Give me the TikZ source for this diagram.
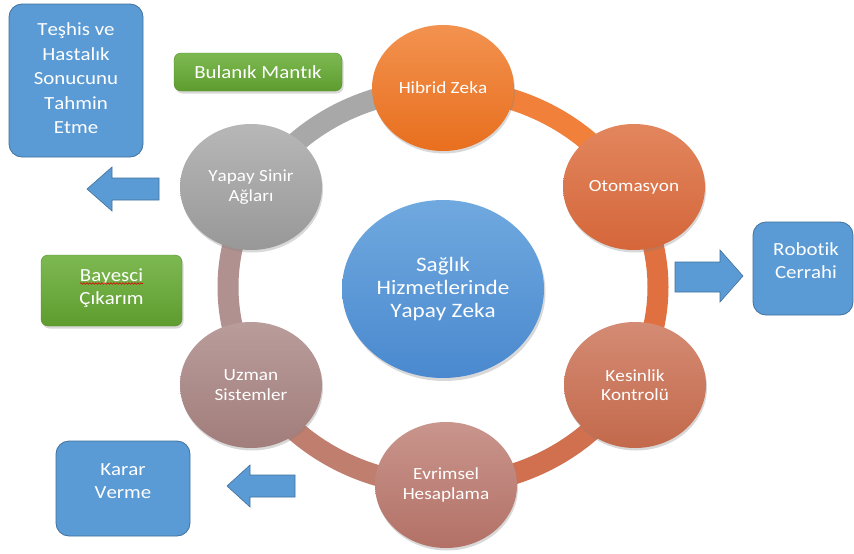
\documentclass[tikz,border=0pt]{standalone}
\usepackage{fontspec}
\setmainfont{Carlito}[FakeStretch=1.13, RawFeature={-liga;-clig;-calt;-kern}]
\usetikzlibrary{shapes.geometric,shadows,decorations.pathmorphing}
\definecolor{boxblue}{HTML}{5B9BD5}
\definecolor{boxedge}{HTML}{41719C}
\definecolor{greentop}{HTML}{7DB951}
\definecolor{greenbot}{HTML}{5E9C2F}
\definecolor{hzTop}{HTML}{F2924F}
\definecolor{hzBot}{HTML}{E86F1E}
\definecolor{otTop}{HTML}{E2865E}
\definecolor{otBot}{HTML}{D5663A}
\definecolor{keTop}{HTML}{D48B74}
\definecolor{keBot}{HTML}{C3694B}
\definecolor{evTop}{HTML}{C9958D}
\definecolor{evBot}{HTML}{B37166}
\definecolor{uzTop}{HTML}{B99D9B}
\definecolor{uzBot}{HTML}{A17D7B}
\definecolor{ysTop}{HTML}{B7B7B7}
\definecolor{ysBot}{HTML}{989898}
\definecolor{ceTop}{HTML}{70A9DF}
\definecolor{ceBot}{HTML}{4A89CF}
\definecolor{ringA}{HTML}{F0803A}
\definecolor{ringB}{HTML}{E07040}
\definecolor{ringC}{HTML}{D0704F}
\definecolor{ringD}{HTML}{C07E6E}
\definecolor{ringE}{HTML}{B09190}
\definecolor{ringF}{HTML}{A8A8A8}
\begin{document}
\begin{tikzpicture}[x=1pt,y=-1pt,
  sat/.style={ellipse, minimum width=142pt, minimum height=126pt, inner sep=0pt,
    text=white, font=\fontsize{17}{19.5}\selectfont, align=center,
    drop shadow={opacity=0.3, shadow xshift=1pt, shadow yshift=-2.5pt}},
  ringseg/.style={line width=21pt},
  bluebox/.style={rectangle, rounded corners=13pt, fill=boxblue, draw=boxedge, line width=0.8pt, inner sep=0pt},
  greenbox/.style={rectangle, rounded corners=7pt, top color=greentop, bottom color=greenbot,
    draw=greenbot!90!black, line width=0.4pt, inner sep=0pt, text=white,
    font=\fontsize{18.5}{23.5}\selectfont, align=center,
    drop shadow={opacity=0.3, shadow xshift=1.5pt, shadow yshift=-2.5pt}},
  boxtext/.style={text=white, font=\fontsize{18.5}{24.5}\selectfont, align=center, inner sep=0pt},
  blockarrow/.style={fill=boxblue, draw=boxedge, line width=0.6pt, line join=miter}
]
\useasboundingbox (0,0) rectangle (854,554);
\fill[white] (0,0) rectangle (854,554);

% ring segments
\draw[ringseg, ringA] (443,287) ++(-90:215 and 198) arc[start angle=-90, end angle=-30, x radius=215, y radius=198];
\draw[ringseg, ringB] (443,287) ++(-30:215 and 198) arc[start angle=-30, end angle=30, x radius=215, y radius=198];
\draw[ringseg, ringC] (443,287) ++(30:215 and 198) arc[start angle=30, end angle=90, x radius=215, y radius=198];
\draw[ringseg, ringD] (443,287) ++(90:215 and 198) arc[start angle=90, end angle=150, x radius=215, y radius=198];
\draw[ringseg, ringE] (443,287) ++(150:215 and 198) arc[start angle=150, end angle=210, x radius=215, y radius=198];
\draw[ringseg, ringF] (443,287) ++(210:215 and 198) arc[start angle=210, end angle=270, x radius=215, y radius=198];

% center
\node[ellipse, minimum width=202pt, minimum height=178pt, inner sep=0pt,
  top color=ceTop, bottom color=ceBot, text=white, align=center,
  font=\fontsize{20.5}{23}\selectfont,
  drop shadow={opacity=0.3, shadow xshift=1.5pt, shadow yshift=-3pt}] (center) at (443,289)
  {Sağlık\\Hizmetlerinde\\Yapay Zeka};

% satellites
\node[sat, top color=hzTop, bottom color=hzBot] (hz) at (443,88) {Hibrid Zeka};
\node[sat, top color=otTop, bottom color=otBot] (ot) at (634,187) {Otomasyon};
\node[sat, top color=keTop, bottom color=keBot] (ke) at (635,385) {Kesinlik\\Kontrolü};
\node[sat, top color=evTop, bottom color=evBot] (ev) at (446,485) {Evrimsel\\Hesaplama};
\node[sat, top color=uzTop, bottom color=uzBot] (uz) at (251,385) {Uzman\\Sistemler};
\node[sat, top color=ysTop, bottom color=ysBot] (ys) at (251,187) {Yapay Sinir\\Ağları};

% blue boxes
\node[bluebox, minimum width=134pt, minimum height=153pt] (teshis) at (76,80.5) {};
\node[boxtext] (teshistext) at (76,78.5) {Teşhis ve\\Hastalık\\Sonucunu\\Tahmin\\Etme};
\node[bluebox, minimum width=134pt, minimum height=95pt] (karar) at (123,488.5) {};
\node[boxtext, font=\fontsize{18.5}{23}\selectfont] (karartext) at (123,481) {Karar\\Verme};
\node[bluebox, minimum width=100pt, minimum height=93pt] (robot) at (803,268.5) {};
\node[boxtext, font=\fontsize{18.5}{23}\selectfont] (robottext) at (806,261) {Robotik\\Cerrahi};

% green boxes
\node[greenbox, minimum width=168pt, minimum height=38pt] (bulanik) at (258,72) {Bulanık Mantık};
\node[greenbox, minimum width=141pt, minimum height=71pt] (bayes) at (111.5,290.5) {};
\node[boxtext, font=\fontsize{18.5}{23}\selectfont] (bayestext) at (111.5,288) {Bayesci\\Çıkarım};
\draw[red!85!black, line width=0.6pt, decorate, decoration={snake, segment length=3pt, amplitude=0.8pt}]
  (80,283.5) -- (143,283.5);

% block arrows
\draw[blockarrow] (159,178) -- (112,178) -- (112,167) -- (87,189) -- (112,211) -- (112,200) -- (159,200) -- cycle;
\draw[blockarrow] (675,262) -- (720,262) -- (720,250) -- (743,276) -- (720,302) -- (720,292) -- (675,292) -- cycle;
\draw[blockarrow] (295,475) -- (250,475) -- (250,465) -- (227,486) -- (250,507) -- (250,497) -- (295,497) -- cycle;
\end{tikzpicture}
\end{document}
